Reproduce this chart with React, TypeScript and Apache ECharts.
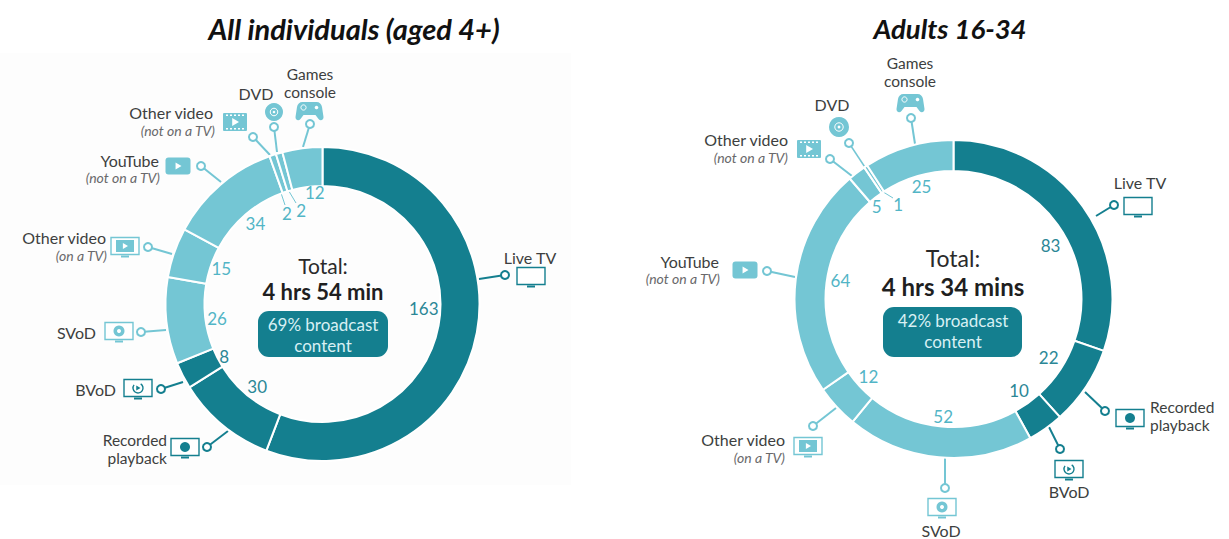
import React, { useEffect, useRef } from "react";
import * as echarts from "echarts";

const categories = ["Live TV", "Recorded playback", "BVoD", "SVoD", "Other video (on a TV)", "YouTube (not on a TV)", "Other video (not on a TV)", "DVD", "Games console"];
const allIndividuals = [163, 30, 8, 26, 15, 34, 2, 2, 12];
const adults1634 = [83, 22, 10, 52, 12, 64, 5, 1, 25];
const leftOffsets = [[-3, -15], [2, 1], [-4, 4], [0, 3], [-1, -1], [2, 0], [-2, 10], [8, 8], [6, -6]];
const rightOffsets = [[5, 12], [1, -4], [0, -1], [0, 5], [-2, 1], [-1, -4], [-8, -3], [7, 0], [0, -4]];

const DARK = "#147f8f";
const LIGHT = "#74c6d4";
const DARK_TEXT = "#2b8796";
const LIGHT_TEXT = "#52b5c6";
const INK = "#3d3f40";
const SOFT = "#69696b";
const FONT = "Lato, 'Noto Sans', sans-serif";
const colors = [DARK, DARK, DARK, LIGHT, LIGHT, LIGHT, LIGHT, LIGHT, LIGHT];

echarts.graphic.registerShape(
  "gamepad",
  echarts.graphic.extendPath(
    "M6 0 H20 C23 0 25 2 25.5 5 L27 15 C27.3 18 24 19.5 22 17 L19 13 H7 L4 17 C2 19.5 -1.300 18 -1 15 L0.500 5 C1 2 3 0 6 0 Z",
    {}
  )
);

const txt = (text: string, x: number, y: number, o: any = {}) => ({
  type: "text",
  x,
  y,
  silent: true,
  style: {
    text,
    fill: o.fill ?? INK,
    fontSize: o.size ?? 16,
    fontFamily: o.family ?? FONT,
    fontStyle: o.italic ? "italic" : "normal",
    fontWeight: o.bold ? "bold" : "normal",
    textAlign: o.align ?? "right",
    align: o.align ?? "right",
    textVerticalAlign: "middle",
    verticalAlign: "middle",
    lineHeight: o.lineHeight,
  },
});

const leader = (x: number, y: number, x2: number, y2: number, color: string) => [
  { type: "line", silent: true, shape: { x1: x, y1: y, x2, y2 }, style: { stroke: color, lineWidth: 2 } },
  { type: "circle", silent: true, shape: { cx: x, cy: y, r: 4 }, style: { fill: "#fff", stroke: color, lineWidth: 2 } },
];

const tri = (cx: number, cy: number, s: number, fill: string) => ({
  type: "polygon",
  silent: true,
  shape: { points: [[cx - s * 0.7, cy - s], [cx + s, cy], [cx - s * 0.7, cy + s]] },
  style: { fill },
});

const tv = (cx: number, cy: number, color: string, kind: string) => {
  const w = 28;
  const h = 17;
  const els: any[] = [
    { type: "rect", silent: true, shape: { x: cx - w / 2, y: cy - h / 2, width: w, height: h }, style: { fill: "#fff", stroke: color, lineWidth: 1.4 } },
    { type: "rect", silent: true, shape: { x: cx - 4, y: cy + h / 2 + 1, width: 8, height: 2 }, style: { fill: color } },
  ];
  if (kind === "svod") {
    els.push({ type: "circle", silent: true, shape: { cx, cy, r: 5.5 }, style: { fill: color } }, { type: "circle", silent: true, shape: { cx, cy, r: 2 }, style: { fill: "#fff" } });
  } else if (kind === "rec") {
    els.push({ type: "circle", silent: true, shape: { cx, cy, r: 5 }, style: { fill: color } });
  } else if (kind === "bvod") {
    els.push({ type: "arc", silent: true, shape: { cx, cy, r: 5, startAngle: -1, endAngle: 3.8 }, style: { stroke: color, lineWidth: 1.4, fill: "none" } }, tri(cx, cy, 2.5, color));
  } else if (kind === "film") {
    els.push({ type: "rect", silent: true, shape: { x: cx - 9, y: cy - 6, width: 18, height: 12 }, style: { fill: color } }, tri(cx, cy, 3, "#fff"));
  }
  return els;
};

const film = (cx: number, cy: number) => {
  const holes = [-9, -5, -1, 3, 7].flatMap((d) => [
    { type: "rect", silent: true, shape: { x: cx + d, y: cy - 7.500, width: 2, height: 1.600 }, style: { fill: "#fff" } },
    { type: "rect", silent: true, shape: { x: cx + d, y: cy + 5.900, width: 2, height: 1.600 }, style: { fill: "#fff" } },
  ]);
  return [
    { type: "rect", silent: true, shape: { x: cx - 12, y: cy - 9, width: 24, height: 18, r: 1 }, style: { fill: LIGHT } },
    ...holes,
    tri(cx, cy, 4, "#fff"),
  ];
};

const ytb = (cx: number, cy: number) => [
  { type: "rect", silent: true, shape: { x: cx - 12.500, y: cy - 8.500, width: 25, height: 17, r: 3 }, style: { fill: LIGHT } },
  tri(cx, cy, 3.5, "#fff"),
];

const disc = (cx: number, cy: number, r: number) => [
  { type: "circle", silent: true, shape: { cx, cy, r }, style: { fill: LIGHT } },
  { type: "circle", silent: true, shape: { cx, cy, r: r * 0.42 }, style: { fill: "none", stroke: "#fff", lineWidth: 1 } },
  { type: "circle", silent: true, shape: { cx, cy, r: r * 0.14 }, style: { fill: "#fff" } },
];

const pad = (cx: number, cy: number) => [
  { type: "gamepad", silent: true, x: cx - 13.500, y: cy - 9, style: { fill: LIGHT } },
  { type: "circle", silent: true, shape: { cx: cx - 6.500, cy: cy - 3.500, r: 2.600 }, style: { fill: "none", stroke: "#fff", lineWidth: 1 } },
  { type: "circle", silent: true, shape: { cx: cx + 6.500, cy: cy - 3.500, r: 1.800 }, style: { fill: "#fff" } },
];

const centre = (cx: number, totalY: number, valueY: number, total: string, share: string, px: number, pw: number, py: number, ph: number, s1: number, s2: number) => [
  txt("Total:", cx, totalY, { align: "center", size: s1, fill: "#2a2a2a" }),
  txt(total, cx, valueY, { align: "center", size: s2, bold: true, fill: "#1f1f1f" }),
  { type: "rect", silent: true, shape: { x: px, y: py, width: pw, height: ph, r: 11 }, style: { fill: DARK } },
  txt(share, cx, py + 13, { align: "center", size: 17, fill: "#d8f0f4" }),
  txt("content", cx, py + 34, { align: "center", size: 17, fill: "#d8f0f4" }),
];

const graphics: any[] = [
  { type: "rect", silent: true, z: -10, shape: { x: 0, y: 53, width: 571, height: 432 }, style: { fill: "#fdfdfd" } },
  txt("All individuals (aged 4+)", 354, 28, { align: "center", size: 29, bold: true, italic: true, fill: "#111" }),
  txt("Adults 16-34", 950, 28, { align: "center", size: 27.5, bold: true, italic: true, fill: "#111" }),
  ...centre(323, 265, 291, "4 hrs 54 min", "69% broadcast", 258, 130, 311, 46, 21, 22),
  ...centre(953, 258, 286, "4 hrs 34 mins", "42% broadcast", 883, 139, 307, 50, 23, 24),

  // left chart callouts
  txt("Games", 310, 74, { align: "center", size: 15.5 }),
  txt("console", 310, 92, { align: "center", size: 15.5 }),
  ...pad(310, 111),
  ...leader(310, 124, 303, 147, LIGHT),
  txt("DVD", 256, 93, { align: "center" }),
  ...disc(274, 112, 9),
  ...leader(274, 127, 277, 152, LIGHT),
  txt("Other video", 213, 112),
  txt("(not on a TV)", 215, 130, { size: 14, italic: true, fill: SOFT }),
  ...film(235, 122),
  ...leader(253, 137, 270, 155, LIGHT),
  { type: "line", silent: true, shape: { x1: 280, y1: 190, x2: 285, y2: 205 }, style: { stroke: LIGHT, lineWidth: 1 } },
  { type: "line", silent: true, shape: { x1: 287, y1: 188, x2: 296, y2: 203 }, style: { stroke: LIGHT, lineWidth: 1 } },
  txt("YouTube", 159, 160),
  txt("(not on a TV)", 160, 177, { size: 14, italic: true, fill: SOFT }),
  ...ytb(178, 166),
  ...leader(201, 166, 221, 182, LIGHT),
  txt("Other video", 106, 237),
  txt("(on a TV)", 107, 255, { size: 14, italic: true, fill: SOFT }),
  ...tv(125, 246, LIGHT, "film"),
  ...leader(148, 247, 172, 254, LIGHT),
  txt("SVoD", 96, 332),
  ...tv(119, 331, LIGHT, "svod"),
  ...leader(141, 332, 166, 330, LIGHT),
  txt("BVoD", 116, 389),
  ...tv(138, 388, DARK, "bvod"),
  ...leader(161, 389, 183, 382, DARK),
  txt("Recorded", 167, 440, { size: 15.5 }),
  txt("playback", 167, 458, { size: 15.5 }),
  ...tv(185, 447, DARK, "rec"),
  ...leader(207, 447, 228, 431, DARK),
  txt("Live TV", 530, 257, { align: "center" }),
  ...tv(531, 276, DARK, "none"),
  ...leader(505, 275, 479, 279, DARK),

  // right chart callouts
  txt("Games", 910, 63, { align: "center", size: 15.5 }),
  txt("console", 910, 81, { align: "center", size: 15.5 }),
  ...pad(911, 103),
  ...leader(911, 118, 915, 144, LIGHT),
  txt("DVD", 832, 104, { align: "center" }),
  ...disc(839, 127, 10),
  { type: "line", silent: true, shape: { x1: 849, y1: 143, x2: 880, y2: 190 }, style: { stroke: LIGHT, lineWidth: 1.500 } },
  { type: "line", silent: true, shape: { x1: 880, y1: 190, x2: 893, y2: 198 }, style: { stroke: LIGHT, lineWidth: 1 } },
  ...leader(849, 143, 851, 146, LIGHT),
  txt("Other video", 788, 139),
  txt("(not on a TV)", 788, 157, { size: 14, italic: true, fill: SOFT }),
  ...film(809, 149),
  ...leader(830, 159, 852, 176, LIGHT),
  txt("YouTube", 719, 261),
  txt("(not on a TV)", 720, 278, { size: 14, italic: true, fill: SOFT }),
  ...ytb(745, 270),
  ...leader(767, 271, 795, 277, LIGHT),
  txt("Other video", 785, 439),
  txt("(on a TV)", 785, 457, { size: 14, italic: true, fill: SOFT }),
  ...tv(808, 446, LIGHT, "film"),
  ...leader(813, 426, 836, 408, LIGHT),
  txt("SVoD", 941, 530, { align: "center" }),
  ...tv(942, 507, LIGHT, "svod"),
  ...leader(945, 488, 945, 458, LIGHT),
  txt("BVoD", 1069, 491, { align: "center" }),
  ...tv(1069, 469, DARK, "bvod"),
  ...leader(1060, 449, 1049, 427, DARK),
  txt("Recorded", 1150, 407, { align: "left", size: 15.5 }),
  txt("playback", 1150, 425, { align: "left", size: 15.5 }),
  ...tv(1130, 418, DARK, "rec"),
  ...leader(1105, 411, 1085, 392, DARK),
  txt("Live TV", 1140, 182, { align: "center" }),
  ...tv(1138, 206, DARK, "none"),
  ...leader(1114, 205, 1096, 216, DARK),
];

const ring = (values: number[], center: number[], inner: number, outer: number) => ({
  type: "pie",
  silent: true,
  center,
  radius: [inner, outer],
  startAngle: 90,
  clockwise: true,
  label: { show: false },
  labelLine: { show: false },
  itemStyle: { borderColor: "#fff", borderWidth: 2 },
  data: values.map((value, i) => ({ name: categories[i], value, itemStyle: { color: colors[i] } })),
  z: 2,
});

const valueLabels = (values: number[], center: number[], labelRadius: number, offsets: number[][]) => ({
  type: "pie",
  silent: true,
  center,
  radius: [labelRadius - 4, labelRadius + 4],
  startAngle: 90,
  clockwise: true,
  avoidLabelOverlap: false,
  labelLine: { show: false },
  itemStyle: { color: "rgba(0,0,0,0)" },
  label: { show: true, position: "inner", formatter: "{c}", fontSize: 17, fontFamily: FONT },
  labelLayout: (p: any) => ({ dx: offsets[p.dataIndex][0], dy: offsets[p.dataIndex][1], hideOverlap: false }),
  data: values.map((value, i) => ({
    name: categories[i],
    value,
    label: { color: i < 3 ? DARK_TEXT : LIGHT_TEXT },
  })),
  z: 3,
});

export default function App() {
  const ref = useRef<HTMLDivElement>(null);
  useEffect(() => {
    document.body.style.margin = "0";
    const chart = echarts.init(ref.current!, undefined, { renderer: "svg" });
    chart.setOption({
      animation: false,
      backgroundColor: "#ffffff",
      tooltip: { show: false },
      series: [
        ring(allIndividuals, [322.5, 304], 118, 157),
        valueLabels(allIndividuals, [322.5, 304], 103, leftOffsets),
        ring(adults1634, [953.5, 299], 128, 159),
        valueLabels(adults1634, [953.5, 299], 110, rightOffsets),
      ],
      graphic: graphics,
    });
    return () => chart.dispose();
  }, []);
  return <div ref={ref} style={{ width: 1229, height: 539 }} />;
}
